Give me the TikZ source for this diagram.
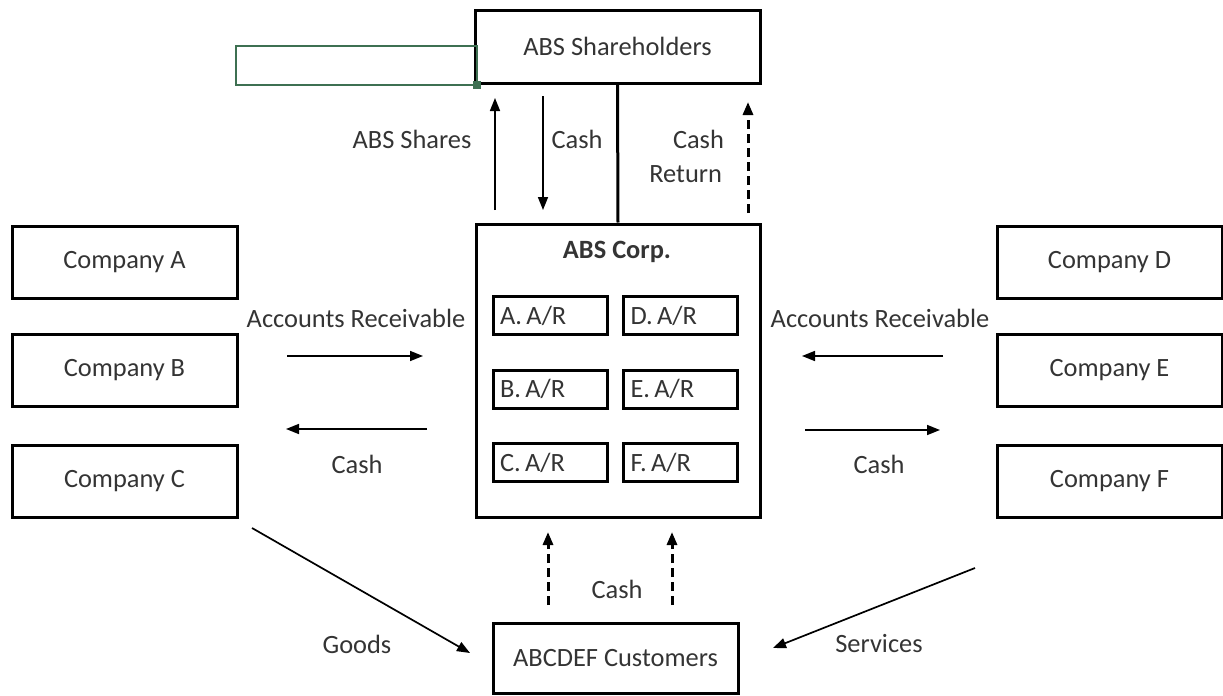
\documentclass[tikz,border=0pt]{standalone}
\usepackage{fontspec}
\setmainfont{Carlito}
\usetikzlibrary{arrows.meta}

\definecolor{inkgray}{RGB}{52,52,52}
\definecolor{selgreen}{RGB}{62,112,82}

\begin{document}
\begin{tikzpicture}[x=0.5pt, y=-0.5pt, >={Triangle[length=6.5pt, width=5pt]},
    font=\fontsize{13.2}{16}\selectfont, text=inkgray,
    box/.style={draw, line width=1.5pt, minimum width=112.5pt, minimum height=36pt, inner sep=0pt},
    arbox/.style={draw, line width=1.5pt, minimum width=57pt, minimum height=19pt,
        text width=50pt, align=left, inner sep=3.5pt},
    flow/.style={->, line width=0.85pt},
    dflow/.style={->, line width=1.5pt, dash pattern=on 4.5pt off 2.5pt}]
    \useasboundingbox (0,0) rectangle (1223,696);

    % shareholders and the selection frame beside them
    \node[box, minimum width=142.5pt, minimum height=36.5pt] (sh) at (617.5,46.5) {ABS Shareholders};
    \draw[selgreen, line width=1.2pt] (236,46) rectangle (477,85);
    \fill[selgreen] (473,81) rectangle (481,89);

    % the corporation
    \node[draw, line width=1.5pt, minimum width=142pt, minimum height=146.5pt] (corp) at (618,370.5) {};
    \node[font=\fontsize{13.2}{16}\selectfont\bfseries] (corpttl) at (617,252) {ABS Corp.};
    \node[arbox] (arA) at (550,315.5) {A.\,A/R};
    \node[arbox] (arB) at (550,389) {B.\,A/R};
    \node[arbox] (arC) at (550,462.5) {C.\,A/R};
    \node[arbox] (arD) at (680.5,315.5) {D.\,A/R};
    \node[arbox] (arE) at (680.5,389) {E.\,A/R};
    \node[arbox] (arF) at (680.5,462.5) {F.\,A/R};

    \draw[line width=1.5pt] (sh.south) -- (corp.north);

    % companies
    \node[box] (compA) at (124.5,262) {Company A};
    \node[box] (compB) at (124.5,370.5) {Company B};
    \node[box] (compC) at (124.5,481) {Company C};
    \node[box] (compD) at (1109.5,262) {Company D};
    \node[box] (compE) at (1109.5,370.5) {Company E};
    \node[box] (compF) at (1109.5,481) {Company F};

    \node[box, minimum width=122.5pt, minimum height=35pt] (cust) at (615.5,658) {ABCDEF Customers};

    % arrow ends
    \coordinate (sharesT) at (495,210);  \coordinate (sharesH) at (495,98);
    \coordinate (cashdnT) at (543,96);   \coordinate (cashdnH) at (543,210);
    \coordinate (retT) at (748,213);     \coordinate (retH) at (748,102);
    \coordinate (arlT) at (287,356);     \coordinate (arlH) at (423,356);
    \coordinate (cashlT) at (427,429);   \coordinate (cashlH) at (286,429);
    \coordinate (arrT) at (943,356);     \coordinate (arrH) at (802,356);
    \coordinate (cashrT) at (805,430);   \coordinate (cashrH) at (940,430);
    \coordinate (goodsT) at (252,528);   \coordinate (goodsH) at (470,653);
    \coordinate (servT) at (975,568);    \coordinate (servH) at (773,648);
    \coordinate (custlT) at (548,605);   \coordinate (custlH) at (548,532);
    \coordinate (custrT) at (672,605);   \coordinate (custrH) at (672,532);

    \draw[flow] (sharesT) -- (sharesH);
    \draw[flow] (cashdnT) -- (cashdnH);
    \draw[dflow] (retT) -- (retH);
    \draw[flow] (arlT) -- (arlH);
    \draw[flow] (cashlT) -- (cashlH);
    \draw[flow] (arrT) -- (arrH);
    \draw[flow] (cashrT) -- (cashrH);
    \draw[flow] (goodsT) -- (goodsH);
    \draw[flow] (servT) -- (servH);
    \draw[dflow] (custlT) -- (custlH);
    \draw[dflow] (custrT) -- (custrH);

    % labels
    \node (lshares) at (412,139) {ABS Shares};
    \node (lcashdn) at (577,139) {Cash};
    \node[anchor=east] (lcashret) at (731,139) {Cash};
    \node[anchor=east] (lreturn) at (729,174) {Return};
    \node (larl) at (356,318) {Accounts Receivable};
    \node (lcashl) at (357,464) {Cash};
    \node (larr) at (880,318) {Accounts Receivable};
    \node (lcashr) at (879,464) {Cash};
    \node (lgoods) at (357,644) {Goods};
    \node (lserv) at (879,644) {Services};
    \node (lcustcash) at (617,589) {Cash};
\end{tikzpicture}
\end{document}
